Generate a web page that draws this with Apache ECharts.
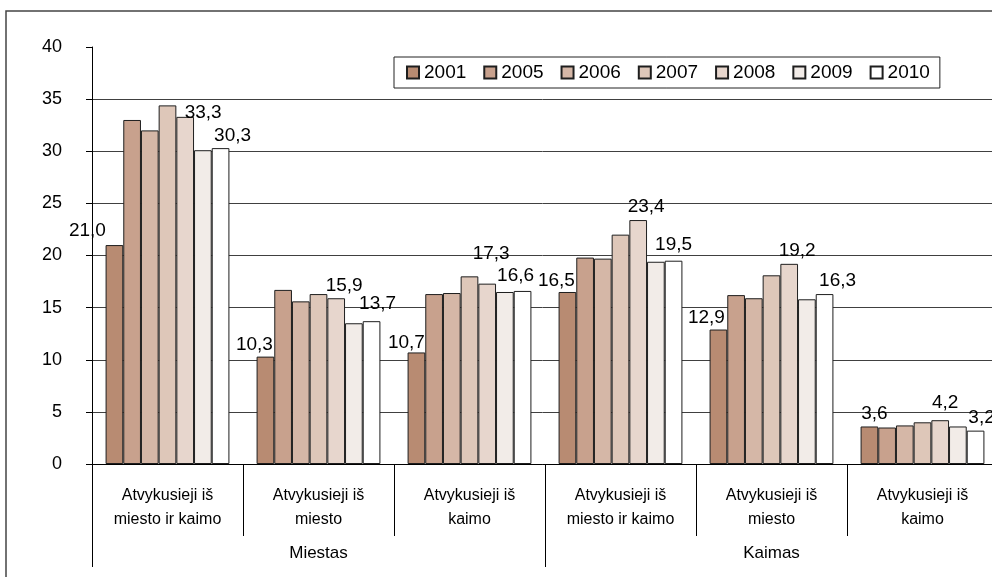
<!DOCTYPE html>
<html>
<head>
<meta charset="utf-8">
<script src="https://cdn.jsdelivr.net/npm/echarts@6/dist/echarts.min.js"></script>
<style>
  html, body { margin: 0; padding: 0; background: #fff; }
  #chart { width: 992px; height: 577px; }
</style>
</head>
<body>
<div id="chart"></div>
<script>
// kategorijos
const categories = [
  'Atvykusieji iš\nmiesto ir kaimo', 'Atvykusieji iš\nmiesto', 'Atvykusieji iš\nkaimo',
  'Atvykusieji iš\nmiesto ir kaimo', 'Atvykusieji iš\nmiesto', 'Atvykusieji iš\nkaimo'
];
const groups = ['Miestas', 'Kaimas'];
const years = ['2001', '2005', '2006', '2007', '2008', '2009', '2010'];

// reikšmės pagal metus
const v2001 = [21.0, 10.3, 10.7, 16.5, 12.9, 3.6];
const v2005 = [33.0, 16.7, 16.3, 19.8, 16.2, 3.5];
const v2006 = [32.0, 15.6, 16.4, 19.7, 15.9, 3.7];
const v2007 = [34.4, 16.3, 18.0, 22.0, 18.1, 4.0];
const v2008 = [33.3, 15.9, 17.3, 23.4, 19.2, 4.2];
const v2009 = [30.1, 13.5, 16.5, 19.4, 15.8, 3.6];
const v2010 = [30.3, 13.7, 16.6, 19.5, 16.3, 3.2];
const yTicks = [0, 5, 10, 15, 20, 25, 30, 35, 40];

const values = [v2001, v2005, v2006, v2007, v2008, v2009, v2010];
const colors = ['#b88b72', '#c8a18d', '#d5b7a7', '#dec7b9', '#e7d6cd', '#f2ece8', '#ffffff'];

// kurios serijos turi etiketes ir jų poslinkiai (rankiniai, kaip Excel'yje)
const labelShift = {
  '2001': [[-27, 0], [-11, 3], [-10, 5], [-11, 3], [-12, 3], [5, 2]],
  '2008': [[18, 10], [8, 2], [4, -15], [8, 1], [8, 1], [5, -3]],
  '2010': [[12, 2], [6, -3], [-7, -1], [0, -1], [13, 1], [6, 2]]
};

const fmt = v => v.toFixed(1).replace('.', ',');
const FONT = 'Liberation Sans, Arial, sans-serif';

const series = years.map((y, i) => {
  const shift = labelShift[y];
  return {
    name: y,
    type: 'bar',
    barGap: '0%',
    barCategoryGap: '18%',
    itemStyle: { color: colors[i], borderColor: '#1e1e1e', borderWidth: 1 },
    label: {
      show: !!shift,
      position: 'top',
      distance: 5,
      color: '#000',
      fontSize: 19,
      fontFamily: FONT,
      formatter: p => fmt(p.value)
    },
    data: values[i].map((v, g) => shift ? { value: v, label: { offset: shift[g] } } : v)
  };
});

const chart = echarts.init(document.getElementById('chart'));
chart.setOption({
  animation: false,
  backgroundColor: '#fff',
  textStyle: { fontFamily: FONT },
  graphic: [{
    type: 'rect',
    shape: { x: 6, y: 11, width: 1200, height: 800 },
    style: { fill: 'none', stroke: '#444', lineWidth: 1.5 },
    silent: true
  }],
  legend: {
    left: 394,
    top: 57,
    data: years,
    icon: 'rect',
    itemWidth: 12,
    itemHeight: 12,
    itemGap: 17,
    padding: [6, 10, 6, 12],
    borderColor: '#222',
    borderWidth: 1,
    textStyle: { fontSize: 19, color: '#000', fontFamily: FONT }
  },
  grid: {
    left: 92, top: 47, width: 906, height: 417,
    containLabel: false, outerBoundsMode: 'none'
  },
  xAxis: [
    {
      type: 'category',
      data: categories,
      axisLine: { show: true, lineStyle: { color: '#000', width: 1 } },
      axisTick: { show: true, interval: 0, length: 72, lineStyle: { color: '#000' } },
      axisLabel: {
        interval: 0, margin: 20, fontSize: 16, lineHeight: 24, color: '#000', fontFamily: FONT
      }
    },
    {
      type: 'category',
      position: 'bottom',
      data: groups,
      axisLine: { show: false },
      axisTick: { show: true, interval: 0, length: 103, lineStyle: { color: '#000' } },
      axisLabel: { interval: 0, margin: 81, fontSize: 17, color: '#000', fontFamily: FONT }
    }
  ],
  yAxis: {
    type: 'value',
    min: yTicks[0],
    max: yTicks[yTicks.length - 1],
    interval: yTicks[1] - yTicks[0],
    axisLine: { show: true, lineStyle: { color: '#000', width: 1 } },
    axisTick: { show: true, length: 6, lineStyle: { color: '#000' } },
    axisLabel: { margin: 30, fontSize: 18, color: '#000', fontFamily: FONT },
    splitLine: { show: true, showMaxLine: false, lineStyle: { color: '#404040', width: 1 } }
  },
  series: series
});
</script>
</body>
</html>
